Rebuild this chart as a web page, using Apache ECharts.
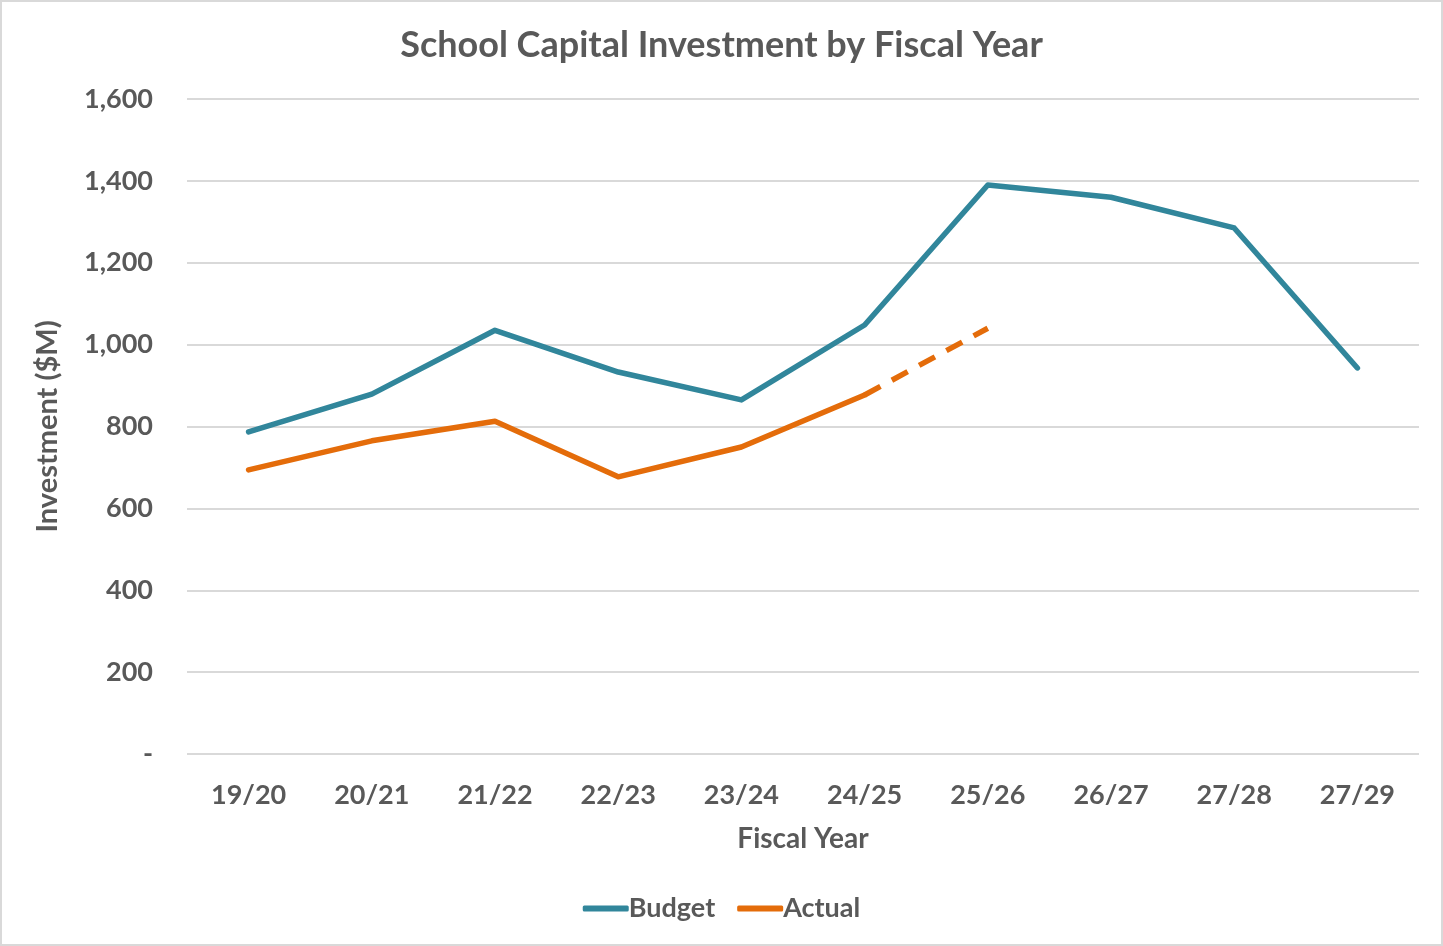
<!DOCTYPE html>
<html>
<head>
<meta charset="utf-8">
<script src="https://cdn.jsdelivr.net/npm/echarts@6/dist/echarts.min.js"></script>
<style>
html,body{margin:0;padding:0;background:#fff;}
#chart{width:1443px;height:946px;box-sizing:border-box;border:2px solid #d9d9d9;}
</style>
</head>
<body>
<div id="chart"></div>
<script>
const categories = ['19/20','20/21','21/22','22/23','23/24','24/25','25/26','26/27','27/28','27/29'];
const budget = [787, 879, 1035, 933, 865, 1048, 1390, 1360, 1285, 943];
const actual = [694, 765, 813, 677, 750, 877, null, null, null, null];
const actualProjected = [null, null, null, null, null, 877, 1040, null, null, null];
const yTicks = {min: 0, max: 1600, interval: 200};

const TEXT = '#595959';
const FONT = 'Lato, "Open Sans", sans-serif';
const chart = echarts.init(document.getElementById('chart'));
chart.setOption({
  animation: false,
  title: {
    text: 'School Capital Investment by Fiscal Year',
    left: 'center', top: 20,
    textStyle: {fontFamily: FONT, fontSize: 36, fontWeight: 'bold', color: TEXT}
  },
  grid: {left: 185, right: 22, top: 97, bottom: 190, containLabel: false},
  legend: {
    bottom: 17, left: 'center',
    data: ['Budget', 'Actual'],
    icon: 'roundRect',
    itemWidth: 46, itemHeight: 6, itemGap: 22,
    textStyle: {fontFamily: FONT, fontSize: 27, fontWeight: 'bold', color: TEXT, padding: [0,0,0,-5]}
  },
  xAxis: {
    type: 'category', data: categories, boundaryGap: true,
    name: 'Fiscal Year', nameLocation: 'middle', nameGap: 71,
    nameTextStyle: {fontFamily: FONT, fontSize: 28, fontWeight: 'bold', color: TEXT},
    axisLine: {show: false}, axisTick: {show: false},
    axisLabel: {fontFamily: FONT, fontSize: 27, fontWeight: 'bold', color: TEXT, margin: 28}
  },
  yAxis: {
    type: 'value', min: yTicks.min, max: yTicks.max, interval: yTicks.interval,
    name: 'Investment ($M)', nameLocation: 'middle', nameGap: 125, nameRotate: 90,
    nameTextStyle: {fontFamily: FONT, fontSize: 29, fontWeight: 'bold', color: TEXT},
    axisLine: {show: false}, axisTick: {show: false},
    axisLabel: {fontFamily: FONT, fontSize: 27, fontWeight: 'bold', color: TEXT, margin: 34,
      formatter: v => v === 0 ? '-' : v.toLocaleString('en-US')},
    splitLine: {lineStyle: {color: '#d9d9d9', width: 2}}
  },
  series: [
    {name: 'Budget', type: 'line', data: budget, symbol: 'none',
     lineStyle: {color: '#31869b', width: 5.5, cap: 'round', join: 'round'}, itemStyle: {color: '#31869b'}},
    {name: 'Actual', type: 'line', data: actual, symbol: 'none',
     lineStyle: {color: '#e46c0a', width: 5.5, cap: 'round', join: 'round'}, itemStyle: {color: '#e46c0a'}},
    {name: 'Actual (projected)', type: 'line', data: actualProjected, symbol: 'none',
     lineStyle: {color: '#e46c0a', width: 5.5, type: [18, 13]}, itemStyle: {color: '#e46c0a'}}
  ]
});
</script>
</body>
</html>
